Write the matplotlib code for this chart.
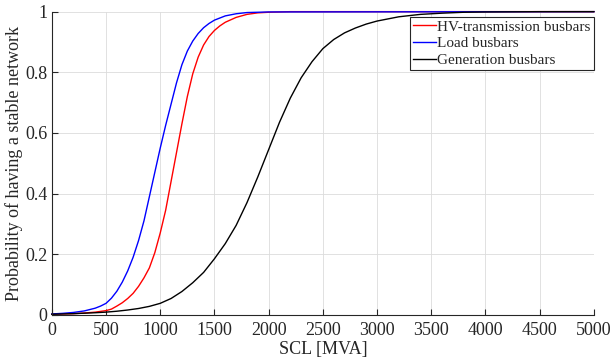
import matplotlib
matplotlib.use("Agg")
import matplotlib.pyplot as plt

# Values
hv_scl = [0, 100, 200, 300, 400, 500, 550, 600, 650, 700, 750, 800, 850, 900, 950, 1000,
          1050, 1100, 1150, 1200, 1250, 1300, 1350, 1400, 1450, 1500, 1550, 1600, 1700, 1800,
          1900, 2000, 2200, 5000]
hv_prob = [0.002, 0.003, 0.004, 0.006, 0.009, 0.014, 0.019, 0.029, 0.04, 0.054, 0.071, 0.094,
           0.122, 0.155, 0.205, 0.27, 0.345, 0.44, 0.535, 0.63, 0.72, 0.795, 0.85, 0.89, 0.918,
           0.938, 0.953, 0.965, 0.981, 0.991, 0.996, 0.998, 1.0, 1.0]

load_scl = [0, 100, 200, 300, 400, 450, 500, 550, 600, 650, 700, 750, 800, 850, 900, 950,
            1000, 1050, 1100, 1150, 1200, 1250, 1300, 1350, 1400, 1450, 1500, 1600, 1700, 1800,
            2000, 5000]
load_prob = [0.003, 0.005, 0.008, 0.013, 0.022, 0.029, 0.038, 0.055, 0.078, 0.108, 0.145, 0.19,
             0.245, 0.31, 0.39, 0.47, 0.55, 0.625, 0.695, 0.765, 0.825, 0.87, 0.903, 0.928,
             0.947, 0.961, 0.972, 0.986, 0.993, 0.997, 0.999, 1.0]

gen_scl = [0, 200, 400, 500, 600, 700, 800, 900, 1000, 1100, 1200, 1300, 1400, 1500, 1600,
           1700, 1800, 1900, 2000, 2100, 2200, 2300, 2400, 2500, 2600, 2700, 2800, 2900, 3000,
           3200, 3400, 3600, 3800, 4000, 4500, 5000]
gen_prob = [0.002, 0.004, 0.007, 0.009, 0.012, 0.016, 0.021, 0.028, 0.038, 0.054, 0.077, 0.106,
            0.14, 0.185, 0.235, 0.295, 0.37, 0.455, 0.545, 0.635, 0.715, 0.782, 0.835, 0.878,
            0.908, 0.93, 0.946, 0.959, 0.969, 0.983, 0.991, 0.995, 0.998, 0.999, 1.0, 1.0]

x_ticks = list(range(0, 5001, 500))
y_ticks = [0, 0.2, 0.4, 0.6, 0.8, 1]
y_tick_labels = ["0", "0.2", "0.4", "0.6", "0.8", "1"]

plt.rcParams["font.family"] = ["Liberation Serif", "DejaVu Serif"]
dark = "#262626"

fig = plt.figure(figsize=(6.11, 3.64), dpi=100)
ax = fig.add_axes([0.0848, 0.135, 0.8872, 0.833])

ax.plot(hv_scl, hv_prob, color="red", lw=1.0, label="HV-transmission busbars", clip_on=False)
ax.plot(load_scl, load_prob, color="blue", lw=1.0, label="Load busbars", clip_on=False)
ax.plot(gen_scl, gen_prob, color="black", lw=1.0, label="Generation busbars", clip_on=False)

ax.set_xlim(0, 5000)
ax.set_ylim(0, 1)
ax.set_xticks(x_ticks)
ax.set_yticks(y_ticks)
ax.set_yticklabels(y_tick_labels)
ax.tick_params(direction="in", length=4, width=0.8, colors=dark, labelsize=13)
ax.tick_params(axis="x", pad=5)
ax.tick_params(axis="y", pad=3)

ax.grid(True, color="#dcdcdc", lw=0.6)
ax.set_axisbelow(True)
for side in ["top", "right"]:
    ax.spines[side].set_visible(False)
for side in ["left", "bottom"]:
    ax.spines[side].set_color(dark)
    ax.spines[side].set_linewidth(0.8)

ax.set_xlabel("SCL [MVA]", fontsize=13, color=dark, labelpad=1.5)
ax.set_ylabel("Probability of having a stable network", fontsize=13, color=dark, labelpad=2)

leg = ax.legend(loc="upper right", bbox_to_anchor=(1.0, 0.983), fontsize=11,
                handlelength=1.5, handletextpad=0.1, borderpad=0.2, labelspacing=0.2,
                fancybox=False, framealpha=1, edgecolor=dark, borderaxespad=0)
leg.get_frame().set_linewidth(0.8)
for t in leg.get_texts():
    t.set_color(dark)

fig.savefig("out.png", dpi=100)
